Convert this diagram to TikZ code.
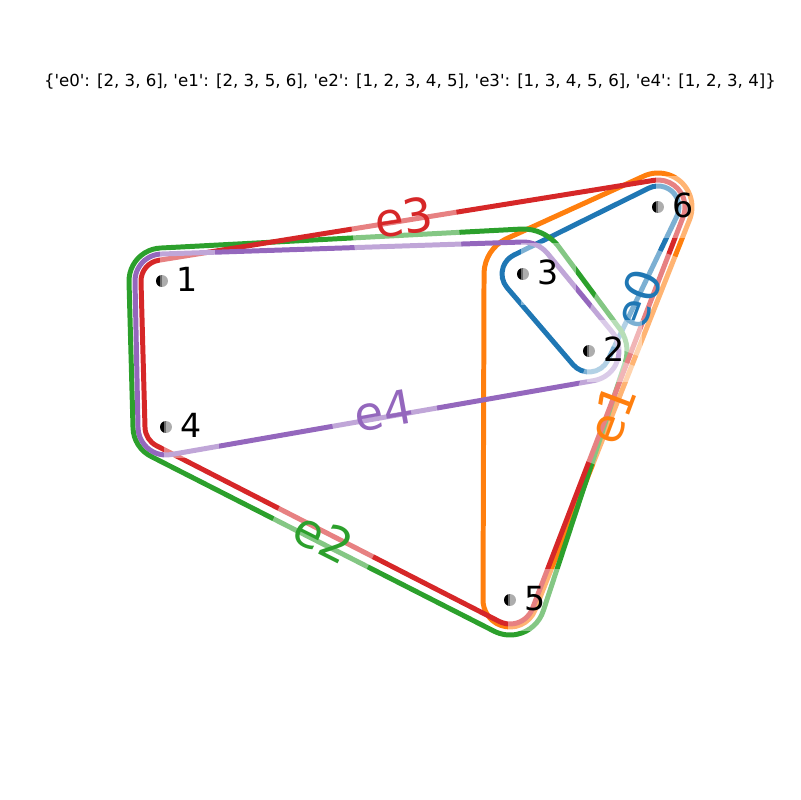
\documentclass[tikz,border=0pt]{standalone}
\usepackage{fontspec}
\setmainfont{DejaVu Sans}[Ligatures=TeXOff]
\usetikzlibrary{positioning}
\definecolor{cblue}{HTML}{1F77B4}
\definecolor{corange}{HTML}{FF7F0E}
\definecolor{cgreen}{HTML}{2CA02C}
\definecolor{cred}{HTML}{D62728}
\definecolor{cpurple}{HTML}{9467BD}
\tikzset{
  vertex/.style={circle, minimum size=8.6pt, inner sep=0pt, outer sep=0pt,
    fill=black!55, path picture={\fill[black] (path picture bounding box.north west)
      rectangle (path picture bounding box.south);}},
  hedge/.style={line width=3.6pt, line join=round},
  vlab/.style={font=\fontsize{24}{28}\selectfont, fill=white, fill opacity=0.42,
    text opacity=1, inner sep=12pt, text height=17.5pt, text depth=3pt},
  elab/.style={font=\fontsize{34}{40}\selectfont, fill=white, fill opacity=0.42,
    text opacity=1, inner sep=17pt, text height=25pt, text depth=4pt}
}

\begin{document}
\begin{tikzpicture}[x=0.01in, y=-0.01in]
    \useasboundingbox (0,0) rectangle (800,800);

    % vertex positions
    \coordinate (p1) at (162,281);
    \coordinate (p2) at (589,351);
    \coordinate (p3) at (523,274);
    \coordinate (p4) at (166,427);
    \coordinate (p5) at (510,600);
    \coordinate (p6) at (658,207);

    % hyperedges
    \draw[hedge, cblue] ([shift={(243.6:21)}]p6) arc[start angle=243.6, end angle=385.6, radius=21]
        -- ([shift={(25.6:21)}]p2) arc[start angle=25.6, end angle=139.4, radius=21]
        -- ([shift={(139.4:21)}]p3) arc[start angle=139.4, end angle=243.6, radius=21] -- cycle;
    \draw[hedge, corange] ([shift={(243.6:34)}]p6) arc[start angle=243.6, end angle=380.6, radius=34]
        -- ([shift={(20.6:27)}]p5) arc[start angle=20.6, end angle=182.3, radius=27]
        -- ([shift={(182.3:39)}]p3) arc[start angle=182.3, end angle=243.6, radius=39] -- cycle;
    \draw[hedge, cgreen] ([shift={(178.4:33)}]p1) arc[start angle=178.4, end angle=268.9, radius=33]
        -- ([shift={(268.9:45)}]p3) arc[start angle=268.9, end angle=319.4, radius=45]
        -- ([shift={(319.4:38)}]p2) arc[start angle=319.4, end angle=377.6, radius=38]
        -- ([shift={(17.6:35)}]p5) arc[start angle=17.6, end angle=116.7, radius=35]
        -- ([shift={(116.7:33)}]p4) arc[start angle=116.7, end angle=178.4, radius=33] -- cycle;
    \draw[hedge, cred] ([shift={(178.4:21)}]p1) arc[start angle=178.4, end angle=261.5, radius=21]
        -- ([shift={(261.5:27)}]p6) arc[start angle=261.5, end angle=380.6, radius=27]
        -- ([shift={(20.6:24)}]p5) arc[start angle=20.6, end angle=116.7, radius=24]
        -- ([shift={(116.7:21)}]p4) arc[start angle=116.7, end angle=178.4, radius=21] -- cycle;
    \draw[hedge, cpurple] ([shift={(178.4:27)}]p1) arc[start angle=178.4, end angle=268.9, radius=27]
        -- ([shift={(268.9:32)}]p3) arc[start angle=268.9, end angle=319.4, radius=32]
        -- ([shift={(319.4:30)}]p2) arc[start angle=319.4, end angle=439.8, radius=30]
        -- ([shift={(79.8:28)}]p4) arc[start angle=79.8, end angle=178.4, radius=28] -- cycle;

    % hyperedge labels
    \node[elab, text=cblue, rotate=69.4] (le0) at (640,300) {e0};
    \node[elab, text=corange, rotate=69.4] (le1) at (614,415) {e1};
    \node[elab, text=cgreen, rotate=-26.7] (le2) at (322,540) {e2};
    \node[elab, text=cred, rotate=8.5] (le3) at (404,220) {e3};
    \node[elab, text=cpurple, rotate=10.2] (le4) at (384,413) {e4};

    % vertices and their labels
    \foreach \i in {1,...,6}
        \node[vertex] (n\i) at (p\i) {};
    \node[vlab, right=-5.8pt of n1] (l1) {1};
    \node[vlab, right=-5.8pt of n2] (l2) {2};
    \node[vlab, right=-5.8pt of n3] (l3) {3};
    \node[vlab, right=-5.8pt of n4] (l4) {4};
    \node[vlab, right=-5.8pt of n5] (l5) {5};
    \node[vlab, right=-5.8pt of n6] (l6) {6};

    \node[font=\fontsize{12}{14}\selectfont] (title) at (410,82)
        {\{'e0': [2, 3, 6], 'e1': [2, 3, 5, 6], 'e2': [1, 2, 3, 4, 5], 'e3': [1, 3, 4, 5, 6], 'e4': [1, 2, 3, 4]\}};
\end{tikzpicture}
\end{document}
